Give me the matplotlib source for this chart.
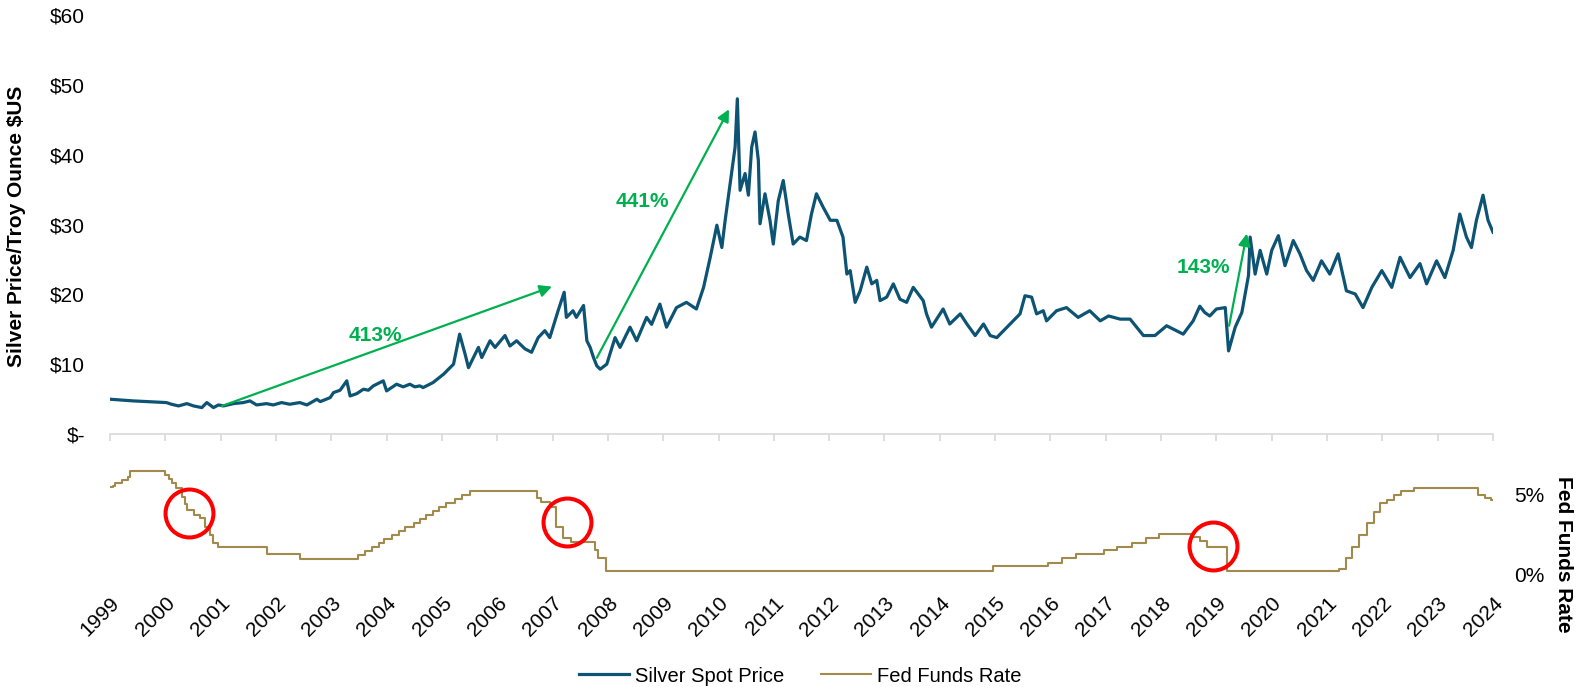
import matplotlib.pyplot as plt

plt.rcParams['font.family'] = ['Liberation Sans', 'DejaVu Sans']

# x axis: one unit per tick, tick 0 is labelled 1999 (as on the original)
year_labels = [str(y) for y in range(1999, 2025)]

silver_x = [0.00, 0.42, 1.02, 1.11, 1.24, 1.39, 1.51, 1.66, 1.75, 1.87, 1.96, 2.05, 2.23, 2.41,
            2.53, 2.65, 2.83, 2.95, 3.10, 3.25, 3.43, 3.56, 3.74, 3.80, 3.98, 4.04, 4.16, 4.28,
            4.34, 4.46, 4.58, 4.67, 4.76, 4.94, 5.00, 5.18, 5.30, 5.42, 5.51, 5.60, 5.66, 5.84,
            6.03, 6.21, 6.32, 6.42, 6.48, 6.66, 6.72, 6.87, 6.96, 7.14, 7.23, 7.35, 7.50, 7.62,
            7.74, 7.86, 7.95, 8.10, 8.21, 8.25, 8.37, 8.43, 8.56, 8.62, 8.68, 8.74, 8.80, 8.86,
            8.98, 9.13, 9.22, 9.40, 9.52, 9.70, 9.79, 9.94, 10.06, 10.24, 10.42, 10.60, 10.73,
            10.85, 10.97, 11.06, 11.12, 11.21, 11.30, 11.34, 11.39, 11.48, 11.54, 11.60, 11.66,
            11.72, 11.75, 11.84, 11.93, 11.99, 12.08, 12.17, 12.26, 12.35, 12.47, 12.59, 12.68,
            12.77, 12.89, 13.02, 13.14, 13.25, 13.32, 13.38, 13.47, 13.56, 13.68, 13.77, 13.86,
            13.92, 14.04, 14.16, 14.28, 14.40, 14.52, 14.70, 14.76, 14.85, 15.06, 15.18, 15.37,
            15.49, 15.64, 15.79, 15.91, 16.03, 16.27, 16.45, 16.54, 16.66, 16.75, 16.87, 16.93,
            17.11, 17.29, 17.50, 17.71, 17.90, 18.05, 18.26, 18.44, 18.68, 18.89, 19.10, 19.40,
            19.58, 19.70, 19.79, 19.88, 20.00, 20.16, 20.22, 20.34, 20.46, 20.58, 20.61, 20.70,
            20.79, 20.91, 21.00, 21.12, 21.24, 21.39, 21.51, 21.63, 21.75, 21.90, 22.05, 22.20,
            22.35, 22.51, 22.65, 22.81, 22.99, 23.17, 23.32, 23.50, 23.68, 23.80, 23.98, 24.13,
            24.28, 24.40, 24.52, 24.61, 24.70, 24.82, 24.91, 25.00]
silver_y = [4.98, 4.74, 4.50, 4.26, 4.02, 4.35, 4.02, 3.78, 4.50, 3.78, 4.16, 4.02, 4.35, 4.50,
            4.74, 4.16, 4.35, 4.16, 4.50, 4.26, 4.50, 4.16, 4.98, 4.64, 5.21, 5.93, 6.27, 7.61,
            5.45, 5.78, 6.41, 6.27, 6.89, 7.61, 6.17, 7.13, 6.75, 7.13, 6.75, 6.89, 6.65, 7.37,
            8.57, 10.0, 14.3, 11.4, 9.5, 12.4, 10.95, 13.35, 12.4, 14.1, 12.6, 13.35, 12.2, 11.7,
            13.8, 14.8, 13.8, 17.65, 20.3, 16.7, 17.65, 16.7, 18.4, 13.35, 12.4, 10.95, 9.76, 9.28,
            10.0, 13.8, 12.4, 15.3, 13.35, 16.7, 15.7, 18.6, 15.3, 18.1, 18.85, 17.9, 21.0,
            25.3, 29.9, 26.7, 30.6, 35.8, 41.1, 48.0, 34.9, 37.3, 34.2, 41.1, 43.25,
            39.2, 30.1, 34.4, 30.6, 27.2, 33.4, 36.3, 31.5, 27.2, 28.2, 27.7, 31.5,
            34.4, 32.5, 30.6, 30.6, 28.2, 22.9, 23.4, 18.85, 20.5, 23.9, 21.5, 22.0,
            19.1, 19.6, 21.5, 19.3, 18.85, 21.0, 19.1, 17.2, 15.3, 17.9, 15.75, 17.2,
            15.75, 14.1, 15.75, 14.1, 13.8, 15.75, 17.2, 19.8, 19.6, 17.2, 17.65, 16.2,
            17.65, 18.1, 16.7, 17.65, 16.2, 16.9, 16.45, 16.45, 14.1, 14.1, 15.5, 14.3,
            16.2, 18.3, 17.4, 16.9, 17.9, 18.1, 11.9, 15.3, 17.4, 22.7, 28.2, 22.9,
            26.3, 22.9, 26.3, 28.4, 24.1, 27.7, 25.8, 23.4, 22.0, 24.8, 22.9, 25.8,
            20.5, 20.05, 18.1, 21.0, 23.4, 21.0, 25.3, 22.4, 24.4, 21.5, 24.8, 22.4,
            26.3, 31.5, 28.2, 26.7, 30.6, 34.2, 30.6, 28.9]

fed_x = [0.00, 0.06, 0.09, 0.21, 0.33, 0.36, 0.99, 1.07, 1.12, 1.20, 1.30, 1.35, 1.39, 1.51,
         1.63, 1.72, 1.81, 1.87, 1.96, 2.83, 3.43, 4.49, 4.61, 4.73, 4.86, 4.96, 5.09, 5.22,
         5.34, 5.50, 5.61, 5.72, 5.84, 5.95, 6.08, 6.24, 6.36, 6.50, 7.71, 7.80, 7.95, 8.06,
         8.19, 8.33, 8.76, 8.83, 8.96, 15.96, 16.95, 17.20, 17.46, 17.96, 18.21, 18.47, 18.73,
         18.96, 19.58, 19.71, 19.83, 20.19, 22.21, 22.34, 22.46, 22.57, 22.72, 22.84, 22.96,
         23.09, 23.21, 23.34, 23.57, 24.72, 24.85, 24.96, 25.00]
fed_y = [5.42, 5.50, 5.67, 5.88, 6.08, 6.46, 6.19, 5.92, 5.67, 5.36, 4.83, 4.40, 4.00, 3.69,
         3.48, 2.96, 2.44, 1.92, 1.71, 1.23, 0.92, 1.20, 1.45, 1.70, 1.95, 2.20, 2.45, 2.70,
         2.95, 3.20, 3.45, 3.70, 3.95, 4.20, 4.45, 4.70, 4.95, 5.20, 4.73, 4.50, 4.20, 2.96,
         2.23, 1.98, 1.50, 0.98, 0.20, 0.50, 0.71, 0.98, 1.23, 1.50, 1.71, 1.96, 2.23,
         2.48, 2.33, 2.08, 1.71, 0.20, 0.33, 0.98, 1.71, 2.44, 3.17, 3.90, 4.46,
         4.65, 4.94, 5.21, 5.40, 4.94, 4.73, 4.60, 4.60]

# annotation arrows (start, end, label position) in the price panel
arrow_labels = ['413%', '441%', '143%']
arrow_start = [(2.02, 4.0), (8.80, 10.9), (20.23, 15.5)]
arrow_end = [(7.99, 21.1), (11.19, 46.5), (20.55, 28.7)]
label_pos = [(4.79, 14.1), (9.62, 33.3), (19.76, 23.8)]

# red circles on the rate panel
circle_x = [1.43, 8.26, 19.94]
circle_y = [3.81, 3.25, 1.75]

silver_col = '#0D5373'
fed_col = '#A08A4C'
green = '#00B050'
W, H = 1576, 687

fig = plt.figure(figsize=(W / 100, H / 100), dpi=100)
ax = fig.add_axes([110 / W, 1 - 434 / H, 1383 / W, 419 / H])
ax2 = fig.add_axes([110 / W, 1 - 588 / H, 1383 / W, 133 / H], sharex=ax)

ax.plot(silver_x, silver_y, color=silver_col, lw=2.3, label='Silver Spot Price')
ax.set_xlim(0, 25)
ax.set_ylim(0, 60)
ax.set_yticks(range(0, 61, 10))
ax.set_yticklabels(['$-'] + ['$%d' % v for v in range(10, 61, 10)])
ax.set_xticks(range(26))
ax.tick_params(axis='y', length=0, pad=18, labelsize=15)
ax.tick_params(axis='x', length=5, width=1.2, color='#D9D9D9', labelbottom=False)
for s in ['top', 'right', 'left']:
    ax.spines[s].set_visible(False)
ax.spines['bottom'].set_color('#D9D9D9')
ax.spines['bottom'].set_linewidth(1.2)

for lab, st, en, lp in zip(arrow_labels, arrow_start, arrow_end, label_pos):
    ax.annotate('', xy=en, xytext=st,
                arrowprops=dict(arrowstyle='-|>', color=green, lw=1.6,
                                mutation_scale=18, shrinkA=0, shrinkB=0))
    ax.text(lp[0], lp[1], lab, color=green, fontsize=15, fontweight='bold',
            ha='center', va='center')

ax2.plot(fed_x, fed_y, color=fed_col, lw=1.5, drawstyle='steps-post', label='Fed Funds Rate')
ax2.plot(circle_x, circle_y, 'o', ms=34.5, mfc='none', mec='#FF0000', mew=2.9, zorder=5)
ax2.set_ylim(-0.875, 7.44)
ax2.yaxis.tick_right()
ax2.set_yticks([0, 5])
ax2.set_yticklabels(['0%', '5%'])
ax2.tick_params(axis='y', length=0, pad=15, labelsize=15)
ax2.set_xticks(range(26))
ax2.set_xticklabels(year_labels, rotation=45, ha='right', va='top', rotation_mode='anchor')
ax2.tick_params(axis='x', length=0, pad=4, labelsize=15)
for s in ax2.spines.values():
    s.set_visible(False)

fig.text(17 / W, 1 - 226 / H, 'Silver Price/Troy Ounce $US', rotation=90,
         ha='center', va='center', fontsize=15, fontweight='bold')
fig.text(1563 / W, 1 - 554 / H, 'Fed Funds Rate', rotation=270,
         ha='center', va='center', fontsize=15, fontweight='bold')

h1, l1 = ax.get_legend_handles_labels()
h2, l2 = ax2.get_legend_handles_labels()
fig.legend(h1 + h2, l1 + l2, loc='center', bbox_to_anchor=(800 / W, 1 - 676 / H), ncol=2,
           frameon=False, fontsize=14.5, handlelength=2.5, handletextpad=0.3, columnspacing=1.8)

fig.savefig('out.png', dpi=100)
